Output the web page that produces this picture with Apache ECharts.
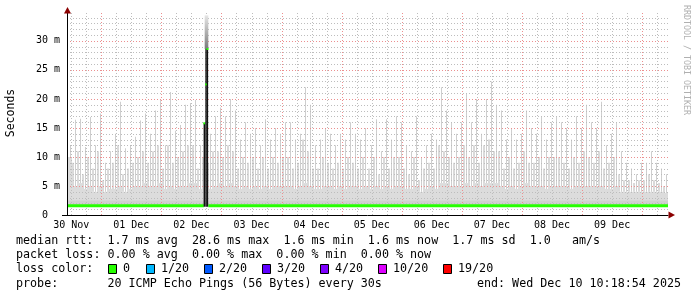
<!DOCTYPE html>
<html><head><meta charset="utf-8">
<script src="https://cdn.jsdelivr.net/npm/echarts@6/dist/echarts.min.js"></script>
<style>html,body{margin:0;padding:0;background:#fff}#c{width:697px;height:297px}</style>
</head><body><div id="c"></div>
<script>
// time axis in hours since 30 Nov 00:00
const timeStart = 10.32, timeEnd = 250.32;
const binHours = 2;
const yMax = 34.8;
const dayLabels = ['30 Nov','01 Dec','02 Dec','03 Dec','04 Dec','05 Dec','06 Dec','07 Dec','08 Dec','09 Dec'];
const dayLabelHours = [12,36,60,84,108,132,156,180,204,228];
const majorXHours = [24,48,72,96,120,144,168,192,216,240];
const yTickValues = [0,5,10,15,20,25,30];
const yTickLabels = ['0  ','5 m','10 m','15 m','20 m','25 m','30 m'];
const minorXHours = []; for (let h = 12; h < timeEnd; h += 6) minorXHours.push(h);
const minorYValues = []; for (let v = 1; v <= 34; v++) minorYValues.push(v);

// smoke (ms) per 2-hour bin
const smokeBase = 1.5, smokeFloor = 2.5;
const smokeSpike = [
 12,16.4,16.6,11.7,16.9,12,17.5,9,11,14,19.5,11.5,12,13.5,16.3,17.5,14,18,19.8,12,
 21.2,14.5,15.5,19,19.3,19.8,12,16,14,17,18.5,17,20,18,13,16,14,15,12,16.5,
 13,15,14,16,16,13,14,22,19,12,13,15,14,12,14,13,16,14,13,15,
 12,16.5,11,16.5,13,17,16,12,11,17,10,12,14,13,22,18,16,14,16,21,
 16,20,14,20,23,19,18,13,15,13,14,18,15,14,17,13,16,17,16,15,
 13,17,15,19,16,15,19.5,12,14,16,11,9,8,7,9,9,11,9,8,7];
const smokeMid = [
 10,9,11,7,10,8,11,6,8,9,12,7,8,9,10,11,9,11,12,8,
 12,9,10,11,12,12,8,10,9,11,11,10,12,11,8,10,9,10,8,10,
 8,10,9,10,10,8,9,13,11,8,8,10,9,8,9,8,10,9,8,10,
 8,10,7,10,8,10,10,8,7,10,6,8,9,8,12,11,10,9,10,12,
 10,12,9,12,13,11,11,8,10,8,9,11,9,9,10,8,10,10,10,9,
 8,10,9,11,10,9,11,8,9,10,7,6,6,5.5,6,6,7,6,5.5,5];
const smokeBand = [
 10,5,5.5,4.5,5,4,5,4,4.5,4.5,5,4,4.5,5,5,5.5,5,5,5.5,4.5,
 5,4.5,5,5,5.5,5.5,4.5,5,4.5,5,5.5,5,5.5,5,4.5,5,4.5,5,4.5,5,
 4.5,5,5,5,5,4.5,5,5.5,5,4.5,4.5,5,5,4.5,5,4.5,5,5,4.5,5,
 4.5,5,4.5,5,4.5,5,5,4.5,4.5,5,4,4.5,5,4.5,5.5,5.5,5,5,5,5.5,
 5,5.5,5,5.5,5.5,5.5,5,4.5,5,4.5,5,5.5,5,5,5,4.5,5,5,5,5,
 4.5,5,5,5,5,5,5,4.5,4.5,5,4,4,4,4,4,4,4,4,4,3.8];

// median rtt (ms)
const medianTimes = [10.32, 64.95, 65.6, 66.75, 250.32];
const medianValues = [1.6, 1.6, null, 1.6, 1.6];
// high-latency event on 02 Dec
const eventTimes = [65.15, 65.85, 66.4];
const eventMedian = [15.8, 22.5, 28.6];
const eventTop = [15.8, 28.6, 28.6];
const eventSmokeTimes = [65.3, 66.75];
const eventSmokeRange = [28.6, 34.4];

const lossLabels = ['0','1/20','2/20','3/20','4/20','10/20','19/20'];
const lossColors = ['#26ff00','#00b8ff','#0059ff','#5e00ff','#7e00ff','#dd00ff','#ff0000'];

const MONO = 'DejaVu Sans Mono';
const chart = echarts.init(document.getElementById('c'), null, {renderer:'canvas'});

function gridLineSeries(values, vertical, color, z) {
  return {
    type:'custom', z:z, silent:true, clip:false,
    data: values.map(v => vertical ? [v, 0] : [timeStart, v]),
    renderItem: (p, api) => {
      let x1, y1, x2, y2;
      if (vertical) {
        const t = api.value(0);
        const a = api.coord([t, 0]), b = api.coord([t, yMax]);
        x1 = x2 = Math.round(a[0]) + 0.5; y1 = a[1]; y2 = b[1];
      } else {
        const v = api.value(1);
        const a = api.coord([timeStart, v]), b = api.coord([timeEnd, v]);
        y1 = y2 = Math.round(a[1]) + 0.5; x1 = a[0]; x2 = b[0];
      }
      return {type:'line', shape:{x1,y1,x2,y2}, style:{stroke:color, lineWidth:1, lineDash:[1,2]}};
    }
  };
}

const legendRows = [
  {y:241, text:'median rtt:  1.7 ms avg  28.6 ms max  1.6 ms min  1.6 ms now  1.7 ms sd  1.0   am/s'},
  {y:255, text:'packet loss: 0.00 % avg  0.00 % max  0.00 % min  0.00 % now'},
  {y:269, text:'loss color:'},
  {y:284, text:'probe:       20 ICMP Echo Pings (56 Bytes) every 30s'}
];
const lossSquareX = [108, 146, 204, 262, 320, 378, 443];
const graphics = [];
legendRows.forEach(r => graphics.push({type:'text', x:16, y:r.y, style:{text:r.text, font:'11.7px "'+MONO+'"', fill:'#000', textVerticalAlign:'middle'}}));
lossLabels.forEach((l, i) => {
  graphics.push({type:'rect', shape:{x:lossSquareX[i]+0.5, y:264.5, width:8, height:9}, style:{fill:lossColors[i], stroke:'#000', lineWidth:1}});
  graphics.push({type:'text', x:lossSquareX[i]+15, y:269, style:{text:l, font:'11.7px "'+MONO+'"', fill:'#000', textVerticalAlign:'middle'}});
});
graphics.push({type:'text', x:681, y:284, style:{text:'end: Wed Dec 10 10:18:54 2025', font:'11.7px "'+MONO+'"', fill:'#000', textAlign:'right', textVerticalAlign:'middle'}});
graphics.push({type:'text', x:11, y:113, rotation:Math.PI/2, style:{text:'Seconds', font:'11.5px "'+MONO+'"', fill:'#000', textAlign:'center', textVerticalAlign:'middle'}});
graphics.push({type:'text', x:686, y:60, rotation:-Math.PI/2, style:{text:'RRDTOOL / TOBI OETIKER', font:'8.3px "'+MONO+'"', fill:'#b0b0b0', textAlign:'center', textVerticalAlign:'middle'}});
// axis arrows & stubs
graphics.push({type:'polygon', shape:{points:[[668.5,211.5],[668.5,218.5],[675,215]]}, style:{fill:'#8b0000'}, z:10});
graphics.push({type:'polygon', shape:{points:[[64,13.5],[71,13.5],[67.5,7]]}, style:{fill:'#8b0000'}, z:10});
graphics.push({type:'line', shape:{x1:62, y1:215.5, x2:67, y2:215.5}, style:{stroke:'#000', lineWidth:1}, z:10});

const option = {
  animation:false,
  backgroundColor:'#fff',
  grid:{left:67, top:13, width:601, height:202, show:false},
  xAxis:{
    type:'value', min:timeStart, max:timeEnd, z:6,
    axisLine:{show:true, onZero:false, lineStyle:{color:'#000', width:1}},
    axisTick:{show:false},
    splitLine:{show:false},
    axisLabel:{show:true, customValues:dayLabelHours, margin:5,
      formatter: v => { const i = dayLabelHours.indexOf(Math.round(v)); return i >= 0 ? dayLabels[i] : ''; },
      fontFamily:MONO, fontSize:10, color:'#000'}
  },
  yAxis:{
    type:'value', min:0, max:yMax, z:6,
    axisLine:{show:true, lineStyle:{color:'#000', width:1}},
    axisTick:{show:false},
    splitLine:{show:false},
    axisLabel:{show:true, customValues:yTickValues, margin:7,
      formatter: v => { const i = yTickValues.indexOf(Math.round(v)); return i >= 0 ? yTickLabels[i] : ''; },
      fontFamily:MONO, fontSize:10, color:'#000'}
  },
  graphic: graphics,
  series:[
    {
      type:'custom', z:1, silent:true,
      data: smokeSpike.map((s, i) => [timeStart + i * binHours, smokeBand[i], smokeMid[i], s]),
      renderItem: (p, api) => {
        const t = api.value(0);
        const a = api.coord([t, smokeBase]);
        const x0 = Math.round(a[0]);
        const x1 = Math.round(api.coord([t + binHours, smokeBase])[0]);
        const w = x1 - x0, yB = a[1];
        const yOf = v => api.coord([t, v])[1];
        const yb = yOf(api.value(1)), ym = yOf(api.value(2)), ys = yOf(api.value(3)), yf = yOf(smokeFloor);
        return {type:'group', children:[
          {type:'rect', shape:{x:x0, y:yb, width:w, height:yB - yb}, style:{fill:'#dcdcdc'}},
          {type:'rect', shape:{x:x0, y:ym, width:2, height:yb - ym}, style:{fill:'#dadada'}},
          {type:'rect', shape:{x:x0 + 3, y:ys, width:1, height:yb - ys}, style:{fill:'#cecece'}},
          {type:'rect', shape:{x:x0, y:yf, width:w, height:yB - yf}, style:{fill:'#d0d0d0'}}
        ]};
      }
    },
    gridLineSeries(minorXHours, true, '#bdbdbd', 2),
    gridLineSeries(minorYValues, false, '#bdbdbd', 2),
    gridLineSeries(majorXHours, true, '#ec8f8f', 3),
    gridLineSeries(yTickValues.slice(1), false, '#ec8f8f', 3),
    {
      type:'custom', z:4, silent:true,
      data: [[eventSmokeTimes[0], eventSmokeTimes[1], eventSmokeRange[0], eventSmokeRange[1]]],
      renderItem: (p, api) => {
        const a = api.coord([api.value(0), api.value(2)]);
        const b = api.coord([api.value(1), api.value(3)]);
        return {type:'rect', shape:{x:a[0], y:b[1], width:b[0]-a[0], height:a[1]-b[1]},
          style:{fill:new echarts.graphic.LinearGradient(0,0,0,1,[{offset:0,color:'#e6e6e6'},{offset:1,color:'#7a7a7a'}])}};
      }
    },
    {
      type:'line', z:5, silent:true, showSymbol:false, symbol:'none', connectNulls:false,
      data: medianTimes.map((t, i) => [t, medianValues[i] === null ? '-' : medianValues[i]]),
      lineStyle:{color:'#26ff00', width:3, cap:'butt'}
    },
    {
      type:'custom', z:6, silent:true,
      data: eventTimes.map((t, i) => [t, eventMedian[i], eventTop[i]]),
      renderItem: (p, api) => {
        const t = api.value(0);
        const base = api.coord([t, medianValues[0]]);
        const yTop = api.coord([t, api.value(2)])[1];
        const yMed = api.coord([t, api.value(1)])[1];
        const w = 1.4, x = base[0] - w / 2;
        return {type:'group', children:[
          {type:'rect', shape:{x:x, y:yTop, width:w, height:base[1] - yTop + 1}, style:{fill:'#111'}},
          {type:'rect', shape:{x:x - 0.3, y:yMed - 1, width:w + 0.6, height:2}, style:{fill:'#26ff00'}}
        ]};
      }
    }
  ]
};
chart.setOption(option);
</script></body></html>
